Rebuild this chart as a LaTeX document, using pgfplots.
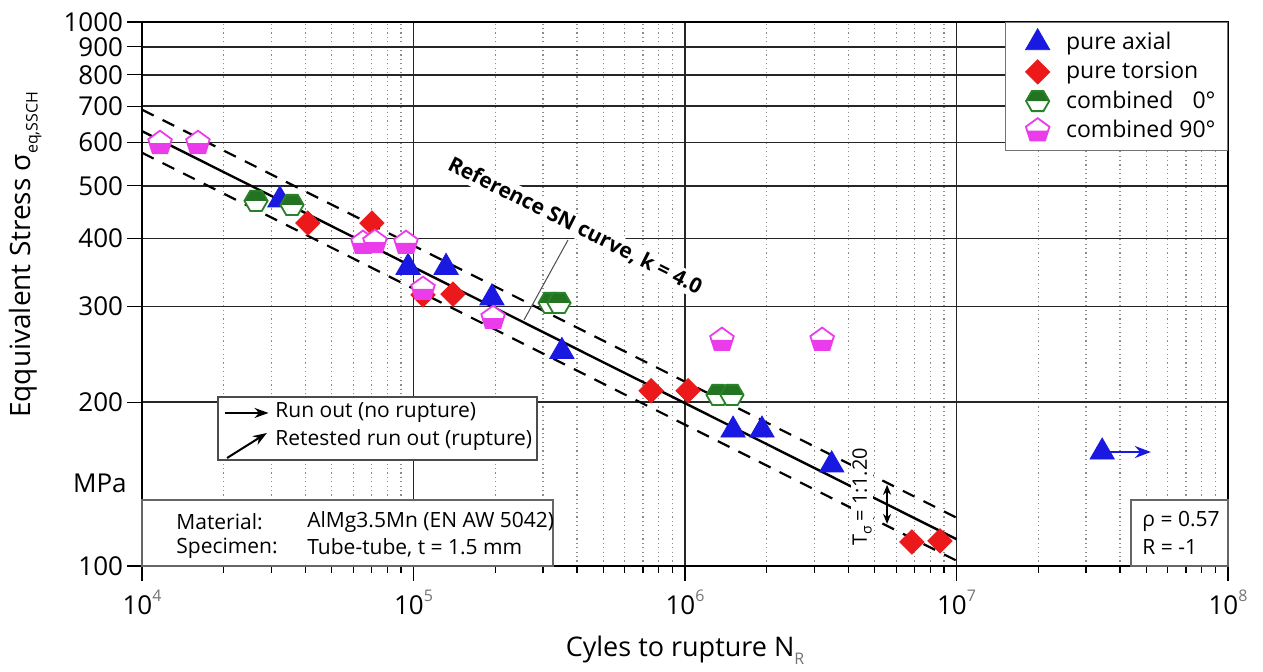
\documentclass[border=0pt]{standalone}
\usepackage{fontspec}
\setmainfont{Open Sans}
\usepackage{pgfplots}
\pgfplotsset{compat=1.18}
\usetikzlibrary{arrows.meta}

\definecolor{cblue}{RGB}{25,25,225}
\definecolor{cred}{RGB}{235,25,25}
\definecolor{cgreen}{RGB}{35,115,35}
\definecolor{cgreenline}{RGB}{40,130,40}
\definecolor{cmag}{RGB}{235,60,235}

\pgfdeclareplotmark{hexhalf}{%
  \begin{pgfscope}
    \pgfsetfillcolor{white}
    \pgfpathmoveto{\pgfqpointpolar{0}{\pgfplotmarksize}}
    \pgfpathlineto{\pgfqpointpolar{60}{\pgfplotmarksize}}
    \pgfpathlineto{\pgfqpointpolar{120}{\pgfplotmarksize}}
    \pgfpathlineto{\pgfqpointpolar{180}{\pgfplotmarksize}}
    \pgfpathlineto{\pgfqpointpolar{240}{\pgfplotmarksize}}
    \pgfpathlineto{\pgfqpointpolar{300}{\pgfplotmarksize}}
    \pgfpathclose
    \pgfusepath{fill}
  \end{pgfscope}
  \pgfpathmoveto{\pgfqpointpolar{0}{\pgfplotmarksize}}
  \pgfpathlineto{\pgfqpointpolar{60}{\pgfplotmarksize}}
  \pgfpathlineto{\pgfqpointpolar{120}{\pgfplotmarksize}}
  \pgfpathlineto{\pgfqpointpolar{180}{\pgfplotmarksize}}
  \pgfpathclose
  \pgfusepath{fill}
  \pgfpathmoveto{\pgfqpointpolar{0}{\pgfplotmarksize}}
  \pgfpathlineto{\pgfqpointpolar{60}{\pgfplotmarksize}}
  \pgfpathlineto{\pgfqpointpolar{120}{\pgfplotmarksize}}
  \pgfpathlineto{\pgfqpointpolar{180}{\pgfplotmarksize}}
  \pgfpathlineto{\pgfqpointpolar{240}{\pgfplotmarksize}}
  \pgfpathlineto{\pgfqpointpolar{300}{\pgfplotmarksize}}
  \pgfpathclose
  \pgfusepath{stroke}
}

\pgfdeclareplotmark{pentahalf}{%
  \begin{pgfscope}
    \pgfsetfillcolor{white}
    \pgfpathmoveto{\pgfqpointpolar{90}{\pgfplotmarksize}}
    \pgfpathlineto{\pgfqpointpolar{162}{\pgfplotmarksize}}
    \pgfpathlineto{\pgfqpointpolar{234}{\pgfplotmarksize}}
    \pgfpathlineto{\pgfqpointpolar{306}{\pgfplotmarksize}}
    \pgfpathlineto{\pgfqpointpolar{18}{\pgfplotmarksize}}
    \pgfpathclose
    \pgfusepath{fill}
  \end{pgfscope}
  \pgfpathmoveto{\pgfqpoint{-0.8507\pgfplotmarksize}{0pt}}
  \pgfpathlineto{\pgfqpointpolar{234}{\pgfplotmarksize}}
  \pgfpathlineto{\pgfqpointpolar{306}{\pgfplotmarksize}}
  \pgfpathlineto{\pgfqpoint{0.8507\pgfplotmarksize}{0pt}}
  \pgfpathclose
  \pgfusepath{fill}
  \pgfpathmoveto{\pgfqpointpolar{90}{\pgfplotmarksize}}
  \pgfpathlineto{\pgfqpointpolar{162}{\pgfplotmarksize}}
  \pgfpathlineto{\pgfqpointpolar{234}{\pgfplotmarksize}}
  \pgfpathlineto{\pgfqpointpolar{306}{\pgfplotmarksize}}
  \pgfpathlineto{\pgfqpointpolar{18}{\pgfplotmarksize}}
  \pgfpathclose
  \pgfusepath{stroke}
}

\newcommand{\dexp}[1]{10\raisebox{0.95ex}{\fontsize{8}{8}\selectfont\color{black!55}#1}}

\begin{document}
\begin{tikzpicture}
\path[use as bounding box] (-71pt,-52.5pt) rectangle (560.5pt,283pt);
\begin{axis}[
  scale only axis, width=543pt, height=272pt,
  xmode=log, ymode=log,
  xmin=1e4, xmax=1e8, ymin=100, ymax=1000,
  xtick={1e4,1e5,1e6,1e7,1e8},
  xticklabels={\dexp{4},\dexp{5},\dexp{6},\dexp{7},\dexp{8}},
  minor xtick={2e4,3e4,4e4,5e4,6e4,7e4,8e4,9e4,2e5,3e5,4e5,5e5,6e5,7e5,8e5,9e5,2e6,3e6,4e6,5e6,6e6,7e6,8e6,9e6,2e7,3e7,4e7,5e7,6e7,7e7,8e7,9e7},
  ytick={100,200,300,400,500,600,700,800,900,1000},
  yticklabels={100,200,300,400,500,600,700,800,900,1000},
  yminorticks=false,
  tick align=outside,
  xtick pos=bottom, ytick pos=left,
  major tick length=7.5pt, minor tick length=3.5pt,
  tick style={black, line width=0.6pt},
  xmajorgrids, xminorgrids, ymajorgrids,
  major grid style={black!85, line width=0.8pt},
  minor grid style={black!45, line width=0.6pt, dash pattern=on 0.6pt off 1.6pt},
  axis line style={black, line width=0.6pt},
  tick label style={font=\fontsize{13}{15}\selectfont},
  yticklabel style={anchor=east, xshift=1.5pt},
  xticklabel style={anchor=north, yshift=-1pt},
  xlabel={Cyles to rupture N\raisebox{-0.55ex}{\fontsize{8}{8}\selectfont\color{black!55}R}},
  ylabel={Eqquivalent Stress σ\raisebox{-0.5ex}{\fontsize{8}{8}\selectfont eq,SSCH}},
  xlabel style={font=\fontsize{13.5}{16}\selectfont, at={(axis description cs:0.5,-0.154)}, anchor=center},
  ylabel style={font=\fontsize{14}{16}\selectfont, at={(axis description cs:-0.1077,0.572)}, anchor=center},
  legend cell align=left,
  legend style={at={(1,1)}, anchor=north east, draw=black!55, line width=0.5pt, fill=white,
    font=\fontsize{11.5}{13.5}\selectfont, inner xsep=4pt, inner ysep=3pt, row sep=0.5pt},
  legend image code/.code={\path[draw=none,fill=none] (0cm,-0.15cm) rectangle (0.85cm,0.15cm);\draw[#1] plot coordinates {(0.42cm,0cm)};},
  clip mode=individual,
]
% scatter band and reference curve
\addplot[forget plot, black, line width=1.1pt, dash pattern=on 6.5pt off 5pt] coordinates {(1e4,690) (1e7,122.7)};
\addplot[forget plot, black, line width=1.1pt, dash pattern=on 6.5pt off 5pt] coordinates {(1e4,575) (1e7,102.3)};
\addplot[forget plot, black, line width=1.2pt] coordinates {(1e4,630) (1e7,112)};
% leader line
\addplot[forget plot, black!70, line width=0.5pt] coordinates {(255300,283.3) (370700,397.5)};
% T band arrow
\addplot[forget plot, black, line width=0.8pt, {Stealth[length=5pt,width=4pt]}-{Stealth[length=5pt,width=4pt]}] coordinates {(5.55e6,141) (5.55e6,119.5)};
% run out arrow
\addplot[forget plot, cblue, line width=1.2pt, -{Stealth[length=8pt,width=6pt]}] coordinates {(3.6e7,162) (5.2e7,162)};

\addplot[only marks, mark=triangle*, mark size=7pt, mark options={draw=cblue, fill=cblue, line width=0.4pt}]
  coordinates {(32200,471) (95500,354) (131800,354) (194500,311) (352000,248) (1503000,177.8) (1921000,177.8) (3470000,153.4) (34400000,162)};
\addlegendentry{pure axial}
\addplot[only marks, mark=square*, mark size=4.3pt, mark options={rotate=45, draw=cred, fill=cred, line width=0.4pt}]
  coordinates {(40800,427) (70300,427) (108400,315) (139800,316) (750000,210) (1026000,210) (6850000,110.7) (8690000,111.2)};
\addlegendentry{pure torsion}
\addplot[only marks, mark=hexhalf, mark size=5.8pt, mark options={draw=cgreenline, fill=cgreen, line width=0.9pt}]
  coordinates {(26300,469) (35690,461) (318600,304.5) (343500,304.5) (1323000,206.3) (1489000,206.3)};
\addlegendentry{combined \phantom{9}0°}
\addplot[only marks, mark=pentahalf, mark size=6.2pt, mark options={draw=cmag, fill=cmag, line width=0.9pt}]
  coordinates {(11650,599) (16070,599) (65150,392.5) (72100,394) (93800,392.5) (108400,323) (196400,285.6) (1368000,260.3) (3200000,260.3)};
\addlegendentry{combined 90°}

% reference curve label
\node[rotate=-26.6, fill=white, inner sep=1pt, font=\bfseries\fontsize{10.5}{12}\selectfont] at (axis cs:393600,421.7) {Reference SN curve, k = 4.0};
% T label
\node[rotate=90, fill=white, inner sep=0.5pt, font=\fontsize{10}{12}\selectfont] at (axis cs:4.49e6,133.9) {T\raisebox{-0.45ex}{\fontsize{7}{7}\selectfont σ} = 1:1.20};

% run-out legend box
\draw[black!70, line width=0.6pt, fill=white] (rel axis cs:0.07,0.1949) rectangle (rel axis cs:0.3637,0.3107);
\draw[black, line width=1pt, -{Stealth[length=7pt,width=5pt]}] (rel axis cs:0.0764,0.2813) -- (rel axis cs:0.1165,0.2813);
\draw[black, line width=1pt, -{Stealth[length=7pt,width=5pt]}] (rel axis cs:0.0783,0.1985) -- (rel axis cs:0.1150,0.2445);
\node[anchor=west, inner sep=0pt, font=\fontsize{10.5}{12}\selectfont] at (rel axis cs:0.1225,0.2813) {Run out (no rupture)};
\node[anchor=west, inner sep=0pt, font=\fontsize{10.5}{12}\selectfont] at (rel axis cs:0.1225,0.2316) {Retested run out (rupture)};

% material box
\draw[black!60, line width=0.6pt, fill=white] (rel axis cs:0,0) rectangle (rel axis cs:0.3785,0.1213);
\node[anchor=west, inner sep=0pt, font=\fontsize{10.5}{12}\selectfont] at (rel axis cs:0.0313,0.0809) {Material:};
\node[anchor=west, inner sep=0pt, font=\fontsize{10.5}{12}\selectfont] at (rel axis cs:0.1519,0.0809) {AlMg3.5Mn (EN AW 5042)};
\node[anchor=west, inner sep=0pt, font=\fontsize{10.5}{12}\selectfont] at (rel axis cs:0.0313,0.0331) {Specimen:};
\node[anchor=west, inner sep=0pt, font=\fontsize{10.5}{12}\selectfont] at (rel axis cs:0.1519,0.0331) {Tube-tube, t = 1.5 mm};

% rho box
\draw[black!60, line width=0.6pt, fill=white] (rel axis cs:0.9107,0) rectangle (rel axis cs:1,0.1213);
\node[anchor=west, inner sep=0pt, font=\fontsize{10.5}{12}\selectfont] at (rel axis cs:0.9208,0.0827) {ρ = 0.57};
\node[anchor=west, inner sep=0pt, font=\fontsize{10.5}{12}\selectfont] at (rel axis cs:0.9208,0.0349) {R = -1};

% MPa
\node[anchor=east, inner sep=0pt, font=\fontsize{13}{15}\selectfont] at (rel axis cs:0,0.1526) [xshift=-7.5pt] {MPa};
\end{axis}
\end{tikzpicture}
\end{document}
